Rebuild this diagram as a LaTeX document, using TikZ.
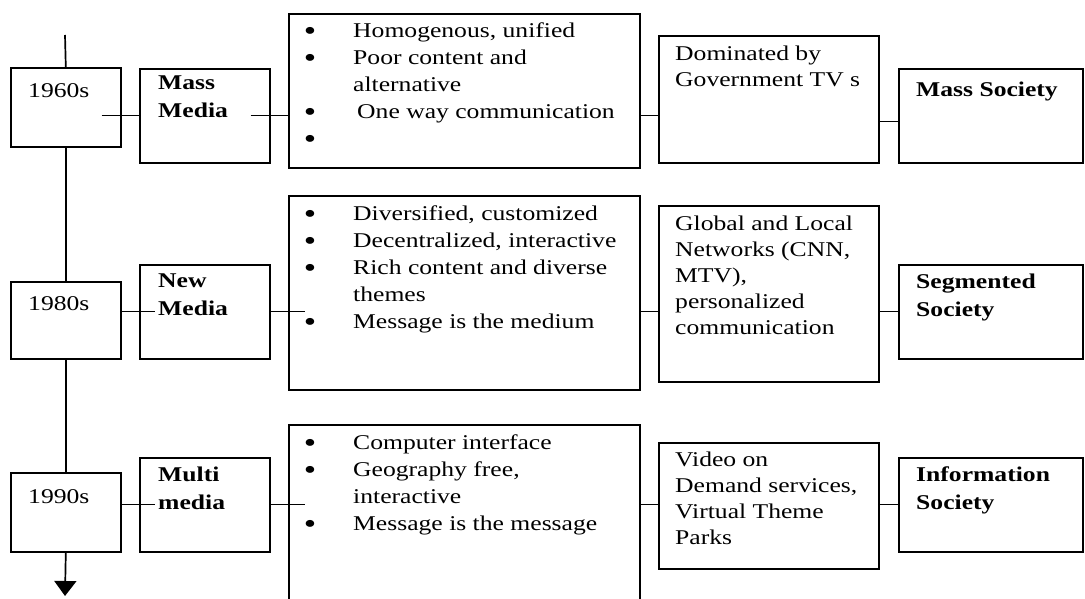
\documentclass[tikz,border=0pt]{standalone}
\usepackage{fontspec}
\newfontfamily\chartfont[FakeStretch=1.22]{Liberation Serif}
\usetikzlibrary{arrows.meta}

\newcommand\chartsize{\fontsize{21pt}{27pt}\selectfont}
\newcommand\bul{\llap{\raisebox{-2.5pt}{\fontsize{29pt}{27pt}\selectfont\textbullet}\hspace{37pt}}}

\tikzset{
  box/.style={draw, line width=1.6pt, inner sep=0pt, anchor=north west},
  link/.style={line width=1.3pt},
  txt/.style={anchor=north west, inner sep=0pt, align=left, font=\chartfont\chartsize,
    execute at begin node=\strut},
  extxt/.style={txt, font=\chartfont\fontsize{21pt}{26pt}\selectfont},
  bold/.style={txt, font=\chartfont\fontsize{21pt}{27.5pt}\selectfont\bfseries}
}

\begin{document}
\begin{tikzpicture}[x=1pt,y=-1pt]
        \useasboundingbox (0,0) rectangle (1085,599);

        % 1960s
        \node[box, minimum width=110pt, minimum height=79pt] (yr60) at (10,67) {};
        \node[box, minimum width=130pt, minimum height=94pt] (mm) at (139,68) {};
        \node[box, minimum width=351pt, minimum height=154pt] (tr60) at (288,13) {};
        \node[box, minimum width=220pt, minimum height=127pt] (ex60) at (658,35) {};
        \node[box, minimum width=184pt, minimum height=94pt] (so60) at (898,68) {};

        \node[txt] (yr60t) at (28,78) {1960s};
        \node[bold] (mmt) at (158,76) {Mass\\Media};
        \node[txt] (tr60t) at (353,23) {\bul Homogenous, unified\\\bul Poor content and\\alternative\\\bul\hspace*{4pt}One way communication\\\bul\strut};
        \node[extxt] (ex60t) at (675,46) {Dominated by\\Government TV s};
        \node[bold] (so60t) at (916,77) {Mass Society};

        % 1980s
        \node[box, minimum width=110pt, minimum height=77pt] (yr80) at (10,281) {};
        \node[box, minimum width=130pt, minimum height=94pt] (nm) at (139,264) {};
        \node[box, minimum width=351pt, minimum height=194pt] (tr80) at (288,195) {};
        \node[box, minimum width=220pt, minimum height=176pt] (ex80) at (658,205) {};
        \node[box, minimum width=184pt, minimum height=94pt] (so80) at (898,264) {};

        \node[txt] (yr80t) at (28,291) {1980s};
        \node[bold] (nmt) at (158,274) {New\\Media};
        \node[txt] (tr80t) at (353,206) {\bul Diversified, customized\\\bul Decentralized, interactive\\\bul Rich content and diverse\\themes\\\bul Message is the medium};
        \node[extxt] (ex80t) at (675,216) {Global and Local\\Networks (CNN,\\MTV),\\personalized\\communication};
        \node[bold] (so80t) at (916,274) {Segmented\\Society};

        % 1990s
        \node[box, minimum width=110pt, minimum height=79pt] (yr90) at (10,472) {};
        \node[box, minimum width=130pt, minimum height=94pt] (mu) at (139,457) {};
        \node[box, minimum width=351pt, minimum height=185pt] (tr90) at (288,424) {};
        \node[box, minimum width=220pt, minimum height=126pt] (ex90) at (658,442) {};
        \node[box, minimum width=184pt, minimum height=94pt] (so90) at (898,457) {};

        \node[txt] (yr90t) at (28,484) {1990s};
        \node[bold] (mut) at (158,467) {Multi\\media};
        \node[txt] (tr90t) at (353,435) {\bul Computer interface\\\bul Geography free,\\interactive\\\bul Message is the message};
        \node[extxt] (ex90t) at (675,452) {Video on\\Demand services,\\Virtual Theme\\Parks};
        \node[bold] (so90t) at (916,467) {Information\\Society};

        % time line
        \coordinate (start) at (65,35);
        \coordinate (stop) at (65,596);
        \draw[line width=1.7pt] (start) -- (yr60.north);
        \draw[line width=1.7pt] (yr60.south) -- (yr80.north);
        \draw[line width=1.7pt] (yr80.south) -- (yr90.north);
        \draw[line width=1.7pt,-{Triangle[width=22pt,length=15pt]}] (yr90.south) -- (stop);

        % links
        \draw[link] ([xshift=-20pt]yr60.east |- mm.west) -- (mm.west);
        \draw[link] ([xshift=-20pt]mm.east) -- (mm.east -| tr60.west);
        \draw[link] (tr60.east |- mm.west) -- (ex60.west |- mm.west);
        \draw[link] ([yshift=-6pt]ex60.east |- so60.west) -- ([yshift=-6pt]so60.west);

        \draw[link] (yr80.east |- nm.west) -- ([xshift=16pt]nm.west);
        \draw[link] (nm.east) -- ([xshift=17pt]nm.east -| tr80.west);
        \draw[link] (tr80.east |- nm.east) -- (ex80.west |- nm.east);
        \draw[link] (ex80.east |- so80.west) -- (so80.west);

        \draw[link] (yr90.east |- mu.west) -- ([xshift=16pt]mu.west);
        \draw[link] (mu.east) -- ([xshift=17pt]mu.east -| tr90.west);
        \draw[link] (tr90.east |- mu.east) -- (ex90.west |- mu.east);
        \draw[link] (ex90.east |- so90.west) -- (so90.west);

\end{tikzpicture}
\end{document}
